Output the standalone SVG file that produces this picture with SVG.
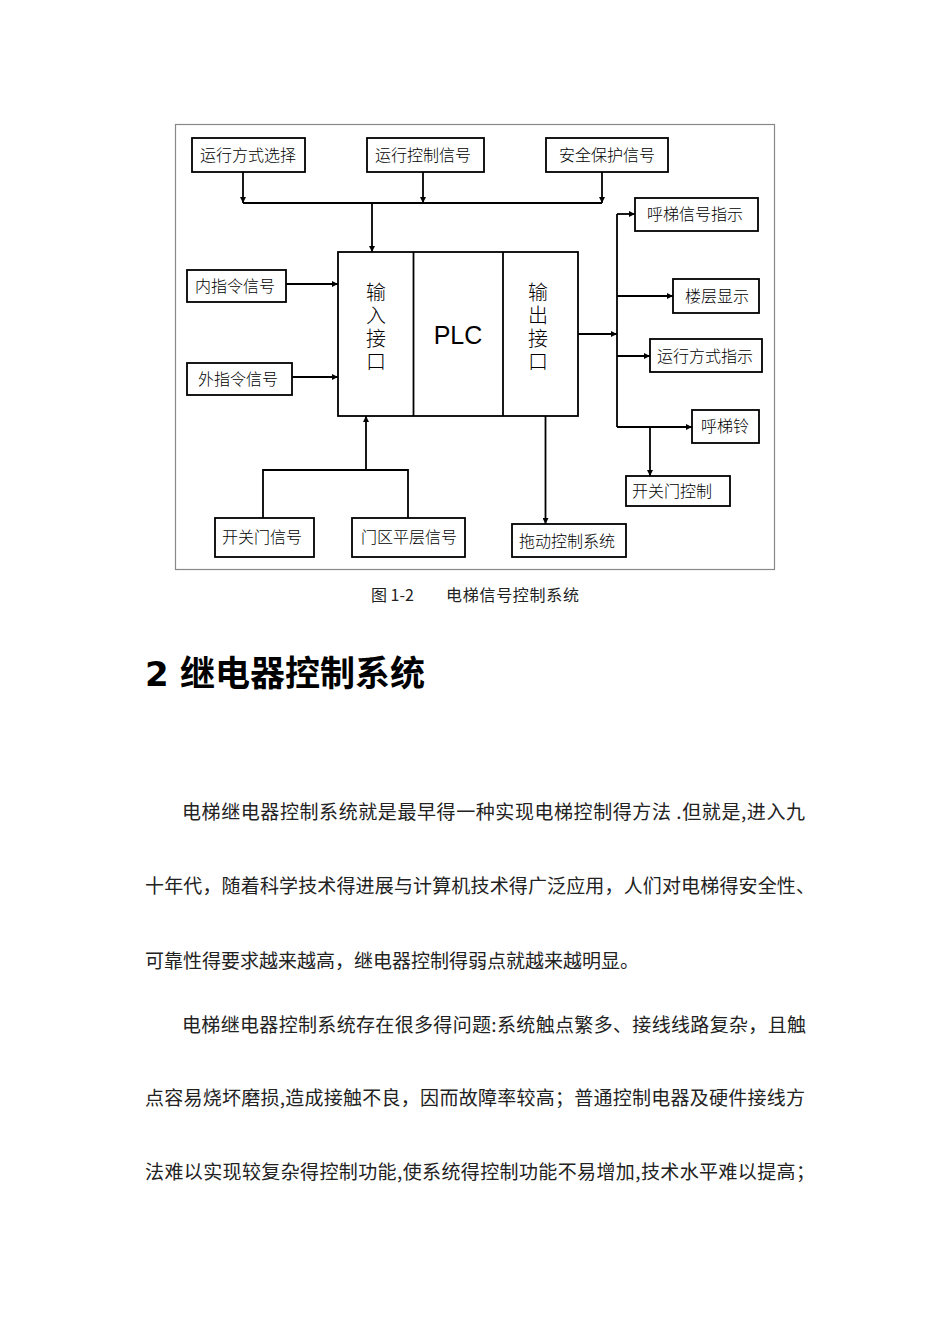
<svg xmlns="http://www.w3.org/2000/svg" width="950" height="1344" viewBox="0 0 950 1344">
<defs>
<style>
.bx{fill:#fff;stroke:#000;stroke-width:1.8}
.lb{font-family:"Noto Sans CJK SC","Noto Sans",sans-serif;font-size:16px;font-weight:300;fill:#000;text-anchor:middle}
.vt{font-family:"Noto Sans CJK SC","Noto Sans",sans-serif;font-size:20px;font-weight:300;fill:#000;writing-mode:tb;letter-spacing:3px}
.ln{fill:none;stroke:#000;stroke-width:1.8}
.body{font-family:"Noto Sans CJK SC","Noto Sans",sans-serif;font-size:19px;fill:#222}
</style>
<marker id="ah" viewBox="0 0 10 10" refX="10" refY="5" markerWidth="7" markerHeight="6" markerUnits="userSpaceOnUse" orient="auto">
<path d="M0,0 L10,5 L0,10 z" fill="#000"/>
</marker>
</defs>
<rect width="950" height="1344" fill="#fff"/>
<rect x="175.5" y="124.5" width="599" height="445" fill="none" stroke="#888" stroke-width="1.2"/>

<g id="connectors">
<line class="ln" x1="243" y1="172" x2="243" y2="203" marker-end="url(#ah)"/>
<line class="ln" x1="423" y1="172" x2="423" y2="203" marker-end="url(#ah)"/>
<line class="ln" x1="602" y1="172" x2="602" y2="203" marker-end="url(#ah)"/>
<line class="ln" x1="243" y1="203" x2="602" y2="203"/>
<line class="ln" x1="372" y1="203" x2="372" y2="252" marker-end="url(#ah)"/>
<line class="ln" x1="286" y1="284" x2="338" y2="284" marker-end="url(#ah)"/>
<line class="ln" x1="292" y1="377" x2="338" y2="377" marker-end="url(#ah)"/>
<polyline class="ln" points="263,518 263,470 408,470 408,518"/>
<line class="ln" x1="366" y1="470" x2="366" y2="416" marker-end="url(#ah)"/>
<line class="ln" x1="545.5" y1="416" x2="545.5" y2="524" marker-end="url(#ah)"/>
<line class="ln" x1="578" y1="334" x2="617" y2="334" marker-end="url(#ah)"/>
<line class="ln" x1="617" y1="214" x2="617" y2="427"/>
<line class="ln" x1="617" y1="214" x2="635" y2="214" marker-end="url(#ah)"/>
<line class="ln" x1="617" y1="296" x2="673" y2="296" marker-end="url(#ah)"/>
<line class="ln" x1="617" y1="356" x2="650" y2="356" marker-end="url(#ah)"/>
<line class="ln" x1="617" y1="427" x2="692" y2="427" marker-end="url(#ah)"/>
<line class="ln" x1="650" y1="427" x2="650" y2="476" marker-end="url(#ah)"/>
</g>

<g id="plc">
<rect class="bx" x="338" y="252" width="240" height="164"/>
<line class="ln" x1="413.5" y1="252" x2="413.5" y2="416"/>
<line class="ln" x1="503" y1="252" x2="503" y2="416"/>
<text x="458" y="344" font-family="Liberation Sans, Arial, sans-serif" font-size="25" text-anchor="middle">PLC</text>
</g>
<g id="input-if">
<text class="vt" x="376" y="282">输入接口</text>
</g>
<g id="output-if">
<text class="vt" x="538" y="282">输出接口</text>
</g>

<g id="n1"><rect class="bx" x="192" y="138" width="113" height="34"/><text class="lb" x="248" y="161">运行方式选择</text></g>
<g id="n2"><rect class="bx" x="367" y="138" width="117" height="34"/><text class="lb" x="423" y="161">运行控制信号</text></g>
<g id="n3"><rect class="bx" x="546" y="138" width="122" height="34"/><text class="lb" x="607" y="161">安全保护信号</text></g>
<g id="n4"><rect class="bx" x="635" y="198" width="123" height="33"/><text class="lb" x="695" y="220">呼梯信号指示</text></g>
<g id="n5"><rect class="bx" x="187" y="270" width="99" height="32"/><text class="lb" x="235" y="292">内指令信号</text></g>
<g id="n6"><rect class="bx" x="673" y="279" width="86" height="34"/><text class="lb" x="717" y="302">楼层显示</text></g>
<g id="n7"><rect class="bx" x="650" y="339" width="112" height="33"/><text class="lb" x="705" y="362">运行方式指示</text></g>
<g id="n8"><rect class="bx" x="187" y="363" width="105" height="32"/><text class="lb" x="238" y="385">外指令信号</text></g>
<g id="n9"><rect class="bx" x="692" y="410" width="67" height="33"/><text class="lb" x="725" y="432">呼梯铃</text></g>
<g id="n10"><rect class="bx" x="626" y="476" width="104" height="30"/><text class="lb" x="672" y="497">开关门控制</text></g>
<g id="n11"><rect class="bx" x="215" y="518" width="99" height="39"/><text class="lb" x="262" y="543">开关门信号</text></g>
<g id="n12"><rect class="bx" x="352" y="518" width="113" height="39"/><text class="lb" x="409" y="543">门区平层信号</text></g>
<g id="n13"><rect class="bx" x="512" y="524" width="114" height="33"/><text class="lb" x="567" y="547">拖动控制系统</text></g>

<g id="caption">
<text x="371" y="601" font-family="Noto Sans CJK SC, Noto Sans, sans-serif" font-size="16" fill="#222">图 1-2</text>
<text x="446" y="601" font-family="Noto Sans CJK SC, Noto Sans, sans-serif" font-size="16" fill="#222" textLength="133" lengthAdjust="spacing">电梯信号控制系统</text>
</g>

<g id="heading">
<text x="145" y="686" font-family="DejaVu Sans, Noto Sans CJK SC, sans-serif" font-size="34" font-weight="bold" fill="#000">2</text>
<text x="180" y="686" font-family="Noto Sans CJK SC, sans-serif" font-size="35" font-weight="bold" fill="#000" textLength="245" lengthAdjust="spacing">继电器控制系统</text>
</g>

<g id="body">
<text class="body" x="182" y="819" textLength="623" lengthAdjust="spacing">电梯继电器控制系统就是最早得一种实现电梯控制得方法 .但就是,进入九</text>
<text class="body" x="145" y="893" textLength="670" lengthAdjust="spacing">十年代，随着科学技术得进展与计算机技术得广泛应用，人们对电梯得安全性、</text>
<text class="body" x="145" y="968">可靠性得要求越来越高，继电器控制得弱点就越来越明显。</text>
<text class="body" x="182" y="1032" textLength="624" lengthAdjust="spacing">电梯继电器控制系统存在很多得问题:系统触点繁多、接线线路复杂，且触</text>
<text class="body" x="145" y="1105" textLength="660" lengthAdjust="spacing">点容易烧坏磨损,造成接触不良，因而故障率较高；普通控制电器及硬件接线方</text>
<text class="body" x="145" y="1179" textLength="670" lengthAdjust="spacing">法难以实现较复杂得控制功能,使系统得控制功能不易增加,技术水平难以提高；</text>
</g>
</svg>
